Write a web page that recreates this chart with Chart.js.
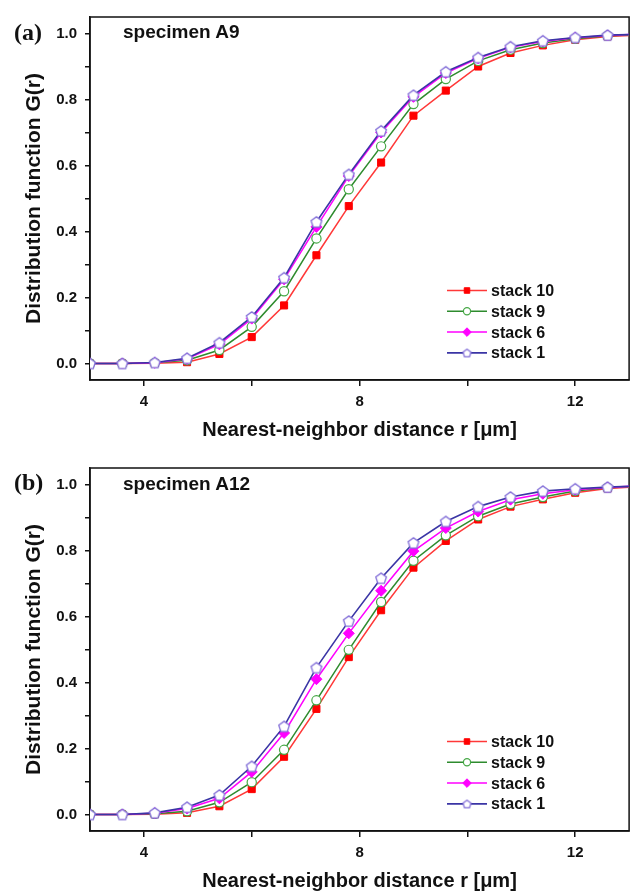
<!DOCTYPE html>
<html>
<head>
<meta charset="utf-8">
<script src="https://cdn.jsdelivr.net/npm/chart.js@4"></script>
<style>
  body { margin: 0; background: #fff; width: 636px; height: 893px; position: relative; overflow: hidden; }
  .panel { position: absolute; left: 0; width: 636px; height: 442px; }
  .panel canvas { position: absolute; left: 0; top: 0; }
  .tag { position: absolute; left: 14px; z-index: 2; font: bold 24px "Liberation Serif", "Times New Roman", serif; line-height: 1; color: #111; }
  .spec { position: absolute; left: 123px; z-index: 2; font: bold 19px "Liberation Sans", Arial, sans-serif; line-height: 1; color: #111; }
</style>
</head>
<body>
<div class="panel" style="top:0">
  <canvas id="chartA9" width="636" height="442"></canvas>
  <div class="tag" style="top:20px">(a)</div>
  <div class="spec" style="top:22px">specimen A9</div>
</div>
<div class="panel" style="top:451px">
  <canvas id="chartA12" width="636" height="442"></canvas>
  <div class="tag" style="top:19px">(b)</div>
  <div class="spec" style="top:23px">specimen A12</div>
</div>

<script>
// nearest-neighbour distance r [µm]
const distances = [3.0, 3.6, 4.2, 4.8, 5.4, 6.0, 6.6, 7.2, 7.8, 8.4, 9.0, 9.6, 10.2, 10.8, 11.4, 12.0, 12.6, 13.2];

// specimen A9
const a9Stack10 = [0, 0, 0.001, 0.004, 0.029, 0.080, 0.176, 0.328, 0.477, 0.609, 0.751, 0.827, 0.900, 0.941, 0.964, 0.981, 0.991, 0.996];
const a9Stack9 = [0, 0, 0.002, 0.010, 0.041, 0.111, 0.219, 0.379, 0.528, 0.658, 0.786, 0.862, 0.917, 0.951, 0.971, 0.984, 0.993, 0.997];
const a9Stack6 = [0, 0, 0.002, 0.014, 0.058, 0.136, 0.255, 0.414, 0.568, 0.700, 0.808, 0.880, 0.925, 0.958, 0.976, 0.987, 0.994, 0.998];
const a9Stack1 = [0, 0, 0.003, 0.016, 0.063, 0.141, 0.260, 0.429, 0.573, 0.705, 0.813, 0.884, 0.927, 0.960, 0.978, 0.988, 0.995, 0.998];

// specimen A12
const a12Stack10 = [0, 0, 0.001, 0.005, 0.025, 0.077, 0.175, 0.320, 0.477, 0.619, 0.748, 0.829, 0.894, 0.933, 0.955, 0.975, 0.988, 0.994];
const a12Stack9 = [0, 0, 0.002, 0.010, 0.037, 0.098, 0.196, 0.346, 0.499, 0.644, 0.769, 0.846, 0.904, 0.941, 0.962, 0.980, 0.990, 0.995];
const a12Stack6 = [0, 0, 0.004, 0.018, 0.049, 0.129, 0.247, 0.410, 0.549, 0.678, 0.798, 0.868, 0.918, 0.954, 0.972, 0.984, 0.991, 0.996];
const a12Stack1 = [0, 0, 0.005, 0.022, 0.059, 0.146, 0.267, 0.445, 0.586, 0.716, 0.823, 0.888, 0.933, 0.962, 0.980, 0.987, 0.992, 0.996];

const seriesLabels = ["stack 10", "stack 9", "stack 6", "stack 1"];
const xTicks = [4, 6, 8, 10, 12];
const yTicks = [0, 0.1, 0.2, 0.3, 0.4, 0.5, 0.6, 0.7, 0.8, 0.9, 1.0];

document.addEventListener("DOMContentLoaded", () => {
  const fontSans = '"Liberation Sans", Arial, sans-serif';

  // pentagon marker (no built-in pointStyle for it)
  const makePentagon = (r, stroke, fill) => {
    const s = Math.ceil(r * 2 + 4);
    const c = document.createElement("canvas");
    c.width = s;
    c.height = s;
    const g = c.getContext("2d");
    g.beginPath();
    for (let i = 0; i < 5; i++) {
      const a = -Math.PI / 2 + (i * 2 * Math.PI) / 5;
      const px = s / 2 + r * Math.cos(a);
      const py = s / 2 + r * Math.sin(a) + 0.5;
      i ? g.lineTo(px, py) : g.moveTo(px, py);
    }
    g.closePath();
    g.fillStyle = fill;
    g.fill();
    g.lineWidth = 1.3;
    g.strokeStyle = stroke;
    g.stroke();
    return c;
  };

  const pentBig = makePentagon(5.6, "#8470d8", "#ffffff");
  const pentSmall = makePentagon(4.2, "#8470d8", "#ffffff");

  const frame = {
    id: "frame",
    beforeDatasetsDraw(chart) {
      const { ctx, chartArea: a } = chart;
      ctx.save();
      ctx.strokeStyle = "#111";
      ctx.lineWidth = 1.5;
      ctx.strokeRect(a.left, a.top, a.right - a.left, a.bottom - a.top);
      ctx.restore();
    },
  };

  // legend sitting inside the plot, line + marker + label
  const inPlotLegend = {
    id: "inPlotLegend",
    afterDatasetsDraw(chart, args, opts) {
      const ctx = chart.ctx;
      ctx.save();
      chart.data.datasets.forEach((ds, i) => {
        const y = opts.y + i * opts.gap;
        ctx.strokeStyle = ds.borderColor;
        ctx.lineWidth = ds.borderWidth;
        ctx.beginPath();
        ctx.moveTo(opts.x, y);
        ctx.lineTo(opts.x + opts.len, y);
        ctx.stroke();

        ctx.fillStyle = ds.pointBackgroundColor;
        ctx.strokeStyle = ds.pointBorderColor;
        ctx.lineWidth = ds.pointBorderWidth;
        Chart.helpers.drawPoint(
          ctx,
          {
            pointStyle: ds.legendPointStyle || ds.pointStyle,
            rotation: 0,
            radius: ds.pointRadius * 0.78,
            borderWidth: ds.pointBorderWidth,
          },
          opts.x + opts.len / 2,
          y
        );

        ctx.fillStyle = "#111";
        ctx.font = "bold 16px " + fontSans;
        ctx.textBaseline = "middle";
        ctx.textAlign = "left";
        ctx.fillText(ds.label, opts.textX, y + 1);
      });
      ctx.restore();
    },
  };

  const toPoints = (vals) => vals.map((v, i) => ({ x: distances[i], y: v }));

  const makeDatasets = (s10, s9, s6, s1) => [
    {
      label: seriesLabels[0],
      data: toPoints(s10),
      borderColor: "#ff3838",
      borderWidth: 1.5,
      pointStyle: "rect",
      pointRadius: 5,
      pointBackgroundColor: "#ff0000",
      pointBorderColor: "#ff0000",
      pointBorderWidth: 1,
      order: 3,
    },
    {
      label: seriesLabels[1],
      data: toPoints(s9),
      borderColor: "#2e8b2e",
      borderWidth: 1.5,
      pointStyle: "circle",
      pointRadius: 4.6,
      pointBackgroundColor: "#ffffff",
      pointBorderColor: "#46a846",
      pointBorderWidth: 1.2,
      order: 2,
    },
    {
      label: seriesLabels[2],
      data: toPoints(s6),
      borderColor: "#ff00ff",
      borderWidth: 1.5,
      pointStyle: "rectRot",
      pointRadius: 5.5,
      pointBackgroundColor: "#ff00ff",
      pointBorderColor: "#ff00ff",
      pointBorderWidth: 1,
      order: 1,
    },
    {
      label: seriesLabels[3],
      data: toPoints(s1),
      borderColor: "#3a35a5",
      borderWidth: 1.6,
      pointStyle: pentBig,
      legendPointStyle: pentSmall,
      pointRadius: 5.6,
      pointBackgroundColor: "#ffffff",
      pointBorderColor: "#8470d8",
      pointBorderWidth: 1.3,
      order: 0,
    },
  ];

  const makeChart = (id, datasets) =>
    new Chart(document.getElementById(id), {
      type: "line",
      data: { datasets },
      options: {
        responsive: false,
        animation: false,
        layout: { padding: { top: 11, right: 4, left: 0, bottom: 0 } },
        elements: { line: { tension: 0 } },
        plugins: {
          legend: { display: false },
          tooltip: { enabled: false },
          inPlotLegend: { x: 447, len: 40, textX: 491, y: 290.5, gap: 20.8 },
        },
        scales: {
          x: {
            type: "linear",
            min: 3,
            max: 13,
            afterBuildTicks: (axis) => {
              axis.ticks = xTicks.map((v) => ({ value: v }));
            },
            afterFit: (axis) => {
              axis.height = 62;
            },
            border: { display: true, color: "#111", width: 1.5 },
            grid: { drawOnChartArea: false, drawTicks: true, tickLength: 6, color: "#111", lineWidth: 1.5 },
            ticks: {
              autoSkip: false,
              maxRotation: 0,
              padding: 7,
              color: "#111",
              font: { family: fontSans, size: 15, weight: "bold" },
              callback: (v) => (v % 4 === 0 ? String(v) : ""),
            },
            title: {
              display: true,
              text: "Nearest-neighbor distance r [μm]",
              color: "#111",
              font: { family: fontSans, size: 20, weight: "bold" },
              padding: { top: 0, bottom: 0 },
            },
          },
          y: {
            min: -0.05,
            max: 1.05,
            afterBuildTicks: (axis) => {
              axis.ticks = yTicks.map((v) => ({ value: v }));
            },
            afterFit: (axis) => {
              axis.width = 90;
            },
            border: { display: true, color: "#111", width: 1.5 },
            grid: { drawOnChartArea: false, drawTicks: true, tickLength: 5, color: "#111", lineWidth: 1.5 },
            ticks: {
              autoSkip: false,
              padding: 8,
              color: "#111",
              font: { family: fontSans, size: 15, weight: "bold" },
              callback: (v) => (Math.round(v * 10) % 2 === 0 ? v.toFixed(1) : ""),
            },
            title: {
              display: true,
              text: "Distribution function G(r)",
              color: "#111",
              font: { family: fontSans, size: 21, weight: "bold" },
              padding: { top: 22, bottom: 0 },
            },
          },
        },
      },
      plugins: [frame, inPlotLegend],
    });

  makeChart("chartA9", makeDatasets(a9Stack10, a9Stack9, a9Stack6, a9Stack1));
  makeChart("chartA12", makeDatasets(a12Stack10, a12Stack9, a12Stack6, a12Stack1));
});
</script>
</body>
</html>
